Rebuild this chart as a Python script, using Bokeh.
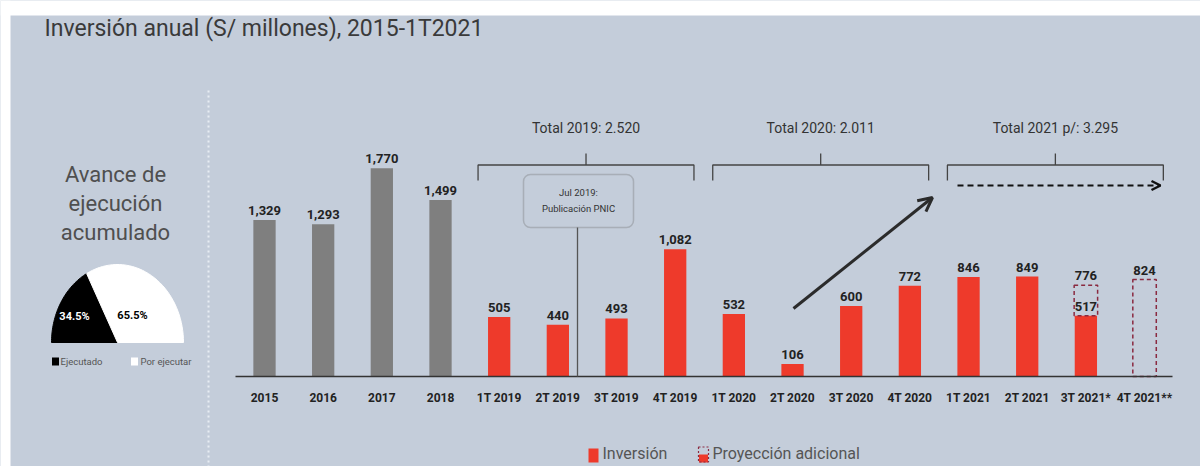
import math
from bokeh.plotting import figure
from bokeh.models import ColumnDataSource, Range1d, Arrow, OpenHead, BoxAnnotation
from bokeh.core.properties import value
from bokeh.embed import file_html
from bokeh.resources import INLINE

# ---------------- data ----------------
title = "Inversión anual (S/ millones), 2015-1T2021"
categories = ["2015", "2016", "2017", "2018",
              "1T 2019", "2T 2019", "3T 2019", "4T 2019",
              "1T 2020", "2T 2020", "3T 2020", "4T 2020",
              "1T 2021", "2T 2021", "3T 2021*", "4T 2021**"]
annual_categories = ["2015", "2016", "2017", "2018"]
annual_values = [1329, 1293, 1770, 1499]
quarter_categories = ["1T 2019", "2T 2019", "3T 2019", "4T 2019",
                      "1T 2020", "2T 2020", "3T 2020", "4T 2020",
                      "1T 2021", "2T 2021", "3T 2021*"]
quarter_values = [505, 440, 493, 1082, 532, 106, 600, 772, 846, 849, 517]
projection_categories = ["3T 2021*", "4T 2021**"]
projection_base = [517, 0]
projection_total = [776, 824]
group_labels = ["Total 2019: 2.520", "Total 2020: 2.011", "Total 2021 p/: 3.295"]
group_first = ["1T 2019", "1T 2020", "1T 2021"]
group_last = ["4T 2019", "4T 2020", "4T 2021**"]
gauge_labels = ["Ejecutado", "Por ejecutar"]
gauge_shares = [34.5, 65.5]
gauge_colors = ["#000000", "#FFFFFF"]
gauge_text_colors = ["#FFFFFF", "#000000"]
side_title = ["Avance de", "ejecución", "acumulado"]
note_lines = ["Jul 2019:", "Publicación PNIC"]
legend_labels = ["Inversión", "Proyección adicional"]

# ---------------- layout helpers ----------------
W, H = 1200, 466
X0, STEP = 264.0, 58.67        # px of first bar centre, spacing
BASE, PPU = 376.0, 0.1177      # px of baseline, px per unit
BG = "#C4CDDA"
GRAY = "#7F7F7F"
RED = "#EE3A2B"
DASH_RED = "#8A2A40"
FONT = value("Roboto")


def dx(px):
    return (px - X0) / STEP


def dy(py):
    return (BASE - py) / PPU


idx = {c: i for i, c in enumerate(categories)}

p = figure(width=W, height=H, output_backend="svg", toolbar_location=None,
           x_range=Range1d(dx(0), dx(W)), y_range=Range1d(dy(H), dy(0)),
           x_axis_type=None, y_axis_type=None, min_border=0)
p.background_fill_color = BG
p.border_fill_color = BG
p.outline_line_color = None
p.grid.visible = False

# white strips at the top and left like the reference
p.add_layout(BoxAnnotation(bottom=dy(15), fill_color="white", fill_alpha=1, line_alpha=0))
p.add_layout(BoxAnnotation(right=dx(10), fill_color="white", fill_alpha=1, line_alpha=0))

# ---------------- title ----------------
p.text(x=[dx(44)], y=[dy(28)], text=[title], text_font=FONT, text_font_size="23px",
       text_color="#3A3A3A", text_align="left", text_baseline="middle")

# ---------------- left panel ----------------
p.text(x=[dx(115)] * 3, y=[dy(174), dy(203), dy(232)], text=side_title, text_font=FONT,
       text_font_size="22px", text_color="#4F4F4F", text_align="center", text_baseline="middle")

# half-gauge (semi-ellipse) slices built from the shares
CX, CY, RX, RY = 117.0, 342.0, 66.0, 78.0
gx, gy = [], []
acc = 0.0
for s in gauge_shares:
    a0 = math.pi - acc / 100 * math.pi
    acc += s
    a1 = math.pi - acc / 100 * math.pi
    n = 40
    angs = [a0 + (a1 - a0) * k / n for k in range(n + 1)]
    gx.append([dx(CX)] + [dx(CX + RX * math.cos(a)) for a in angs])
    gy.append([dy(CY)] + [dy(CY - RY * math.sin(a)) for a in angs])
gsrc = ColumnDataSource(dict(xs=gx, ys=gy, color=gauge_colors))
p.patches(xs="xs", ys="ys", fill_color="color", line_color="color", source=gsrc)
p.text(x=[dx(74), dx(132)], y=[dy(316), dy(315)], text=[f"{s}%" for s in gauge_shares],
       text_font=FONT, text_font_size="11px", text_font_style="bold",
       text_color=gauge_text_colors, text_align="center", text_baseline="middle")
p.rect(x=[dx(55), dx(134)], y=[dy(361)] * 2, width=7, height=8, width_units="screen",
       height_units="screen", fill_color=gauge_colors, line_color=None)
p.text(x=[dx(60), dx(140)], y=[dy(361)] * 2, text=gauge_labels, text_font=FONT,
       text_font_size="9.5px", text_color="#555555", text_align="left", text_baseline="middle")

# dotted separator
p.segment(x0=[dx(208)], y0=[dy(90)], x1=[dx(208)], y1=[dy(466)], line_color="#E8EDF3",
          line_width=2, line_dash="2 3")

# ---------------- bars ----------------
asrc = ColumnDataSource(dict(x=[idx[c] for c in annual_categories], top=annual_values))
p.vbar(x="x", top="top", width=0.38, fill_color=GRAY, line_color=None, source=asrc)
qsrc = ColumnDataSource(dict(x=[idx[c] for c in quarter_categories], top=quarter_values))
p.vbar(x="x", top="top", width=0.38, fill_color=RED, line_color=None, source=qsrc)
psrc = ColumnDataSource(dict(x=[idx[c] for c in projection_categories], bottom=projection_base,
                             top=projection_total))
p.vbar(x="x", bottom="bottom", top="top", width=0.40, fill_alpha=0, line_color=DASH_RED,
       line_width=1.5, line_dash="4 3", source=psrc)

# baseline
p.segment(x0=[dx(235)], y0=[0], x1=[dx(1172)], y1=[0], line_color="#333333", line_width=1.5)

# value labels
lab_x, lab_y, lab_t = [], [], []
for c, v in list(zip(annual_categories, annual_values)) + list(zip(quarter_categories, quarter_values)) \
        + list(zip(projection_categories, projection_total)):
    lab_x.append(idx[c])
    lab_y.append(v + 5 / PPU)
    lab_t.append(f"{v:,}")
p.text(x=lab_x, y=lab_y, text=lab_t, text_font=FONT, text_font_size="13px", text_font_style="bold",
       text_color="#222222", text_align="center", text_baseline="bottom")

# category labels
p.text(x=list(range(len(categories))), y=[dy(397)] * len(categories), text=categories,
       text_font=FONT, text_font_size="12px", text_font_style="bold", text_color="#222222",
       text_align="center", text_baseline="middle")

# ---------------- group brackets ----------------
bx, by, tx = [], [], []
for f, l in zip(group_first, group_last):
    left, right = idx[f] - 0.36, idx[l] + 0.32
    mid = (left + right) / 2
    bx += [[left, left, right, right], [mid, mid]]
    by += [[dy(180), dy(164.5), dy(164.5), dy(180)], [dy(164.5), dy(153)]]
    tx.append(mid)
p.multi_line(xs=bx, ys=by, line_color="#444444", line_width=1.3)
p.text(x=tx, y=[dy(127)] * len(tx), text=group_labels, text_font=FONT, text_font_size="14px",
       text_color="#333333", text_align="center", text_baseline="middle")

# ---------------- PNIC note ----------------
p.add_layout(BoxAnnotation(left=dx(523), right=dx(633), top=dy(174), bottom=dy(227),
                           fill_alpha=0, line_color="#666666", line_width=1.5, border_radius=7))
p.segment(x0=[dx(577)], y0=[dy(227)], x1=[dx(577)], y1=[0], line_color="#555555", line_width=1.3)
p.text(x=[dx(578)] * 2, y=[dy(192), dy(208)], text=note_lines, text_font=FONT,
       text_font_size="9.5px", text_color="#333333", text_align="center", text_baseline="middle")

# ---------------- arrows ----------------
p.add_layout(Arrow(end=OpenHead(size=14, line_width=3, line_color="#2B2B2B"),
                   x_start=dx(793), y_start=dy(308), x_end=dx(932), y_end=dy(197),
                   line_color="#2B2B2B", line_width=3))
p.add_layout(Arrow(end=OpenHead(size=9, line_width=2.5, line_color="#111111"),
                   x_start=dx(957), y_start=dy(185), x_end=dx(1160), y_end=dy(185),
                   line_color="#111111", line_width=2, line_dash="6 4"))

# ---------------- legend ----------------
p.rect(x=[dx(593)], y=[dy(455)], width=10, height=14, width_units="screen", height_units="screen",
       fill_color=RED, line_color=None)
p.rect(x=[dx(703)], y=[dy(458)], width=9, height=8, width_units="screen", height_units="screen",
       fill_color=RED, line_color=None)
p.rect(x=[dx(703)], y=[dy(454)], width=10, height=15, width_units="screen", height_units="screen",
       fill_alpha=0, line_color=DASH_RED, line_width=1.2, line_dash="2 2")
p.text(x=[dx(602), dx(712)], y=[dy(453)] * 2, text=legend_labels, text_font=FONT,
       text_font_size="16px", text_color="#555555", text_align="left", text_baseline="middle")

open("out.html", "w").write(file_html(p, INLINE))
